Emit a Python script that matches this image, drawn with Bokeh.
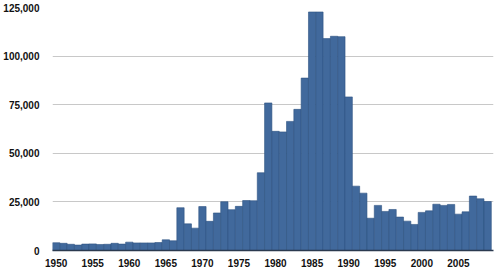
from bokeh.plotting import figure
from bokeh.models import FixedTicker, NumeralTickFormatter, Range1d
from bokeh.embed import file_html
from bokeh.resources import INLINE

years = list(range(1950, 2010))
values = [
    4000, 3700, 3200, 2800, 3300, 3400, 3100, 3200, 3700, 3300,
    4300, 3900, 3900, 3900, 4100, 5500, 5000, 22000, 13700, 11500,
    22600, 15000, 19300, 25100, 21000, 22700, 25700, 25600, 40000, 75900,
    61300, 61000, 66400, 72600, 88700, 122700, 122700, 109000, 110200, 110000,
    79000, 33100, 29500, 16600, 23200, 20100, 21100, 17200, 15100, 13400,
    19600, 20400, 23800, 23200, 23700, 18700, 19900, 28000, 26600, 25200,
]
y_ticks = [0, 25000, 50000, 75000, 100000, 125000]
x_ticks = [1950, 1955, 1960, 1965, 1970, 1975, 1980, 1985, 1990, 1995, 2000, 2005]

p = figure(width=500, height=273, output_backend="svg", toolbar_location=None,
           x_range=Range1d(1949.5, 2009.8), y_range=Range1d(0, 125000),
           min_border_left=49, min_border_right=7, min_border_top=7, min_border_bottom=23)
p.outline_line_color = None
p.background_fill_color = "white"
p.border_fill_color = "white"

p.vbar(x=years, top=values, width=1.0, fill_color="#41699c", line_color="#2d5282", line_width=0.6)

p.xgrid.grid_line_color = None
p.ygrid.grid_line_color = "#c8c8c8"
p.ygrid.grid_line_width = 1
p.ygrid.ticker = FixedTicker(ticks=y_ticks)

p.yaxis.ticker = FixedTicker(ticks=y_ticks)
p.yaxis.formatter = NumeralTickFormatter(format="0,0")
p.yaxis.axis_line_color = None
p.yaxis.major_tick_line_color = None
p.yaxis.minor_tick_line_color = None
p.yaxis.major_label_standoff = 7

p.xaxis.ticker = FixedTicker(ticks=x_ticks)
p.xaxis.axis_line_color = "#2b3a4f"
p.xaxis.axis_line_width = 1.5
p.xaxis.major_tick_line_color = None
p.xaxis.minor_tick_line_color = None
p.xaxis.major_label_standoff = 2

for ax in (p.xaxis, p.yaxis):
    ax.major_label_text_font = "Liberation Sans"
    ax.major_label_text_font_style = "bold"
    ax.major_label_text_font_size = "10px"
    ax.major_label_text_color = "#111111"

open("out.html", "w").write(file_html(p, INLINE))
